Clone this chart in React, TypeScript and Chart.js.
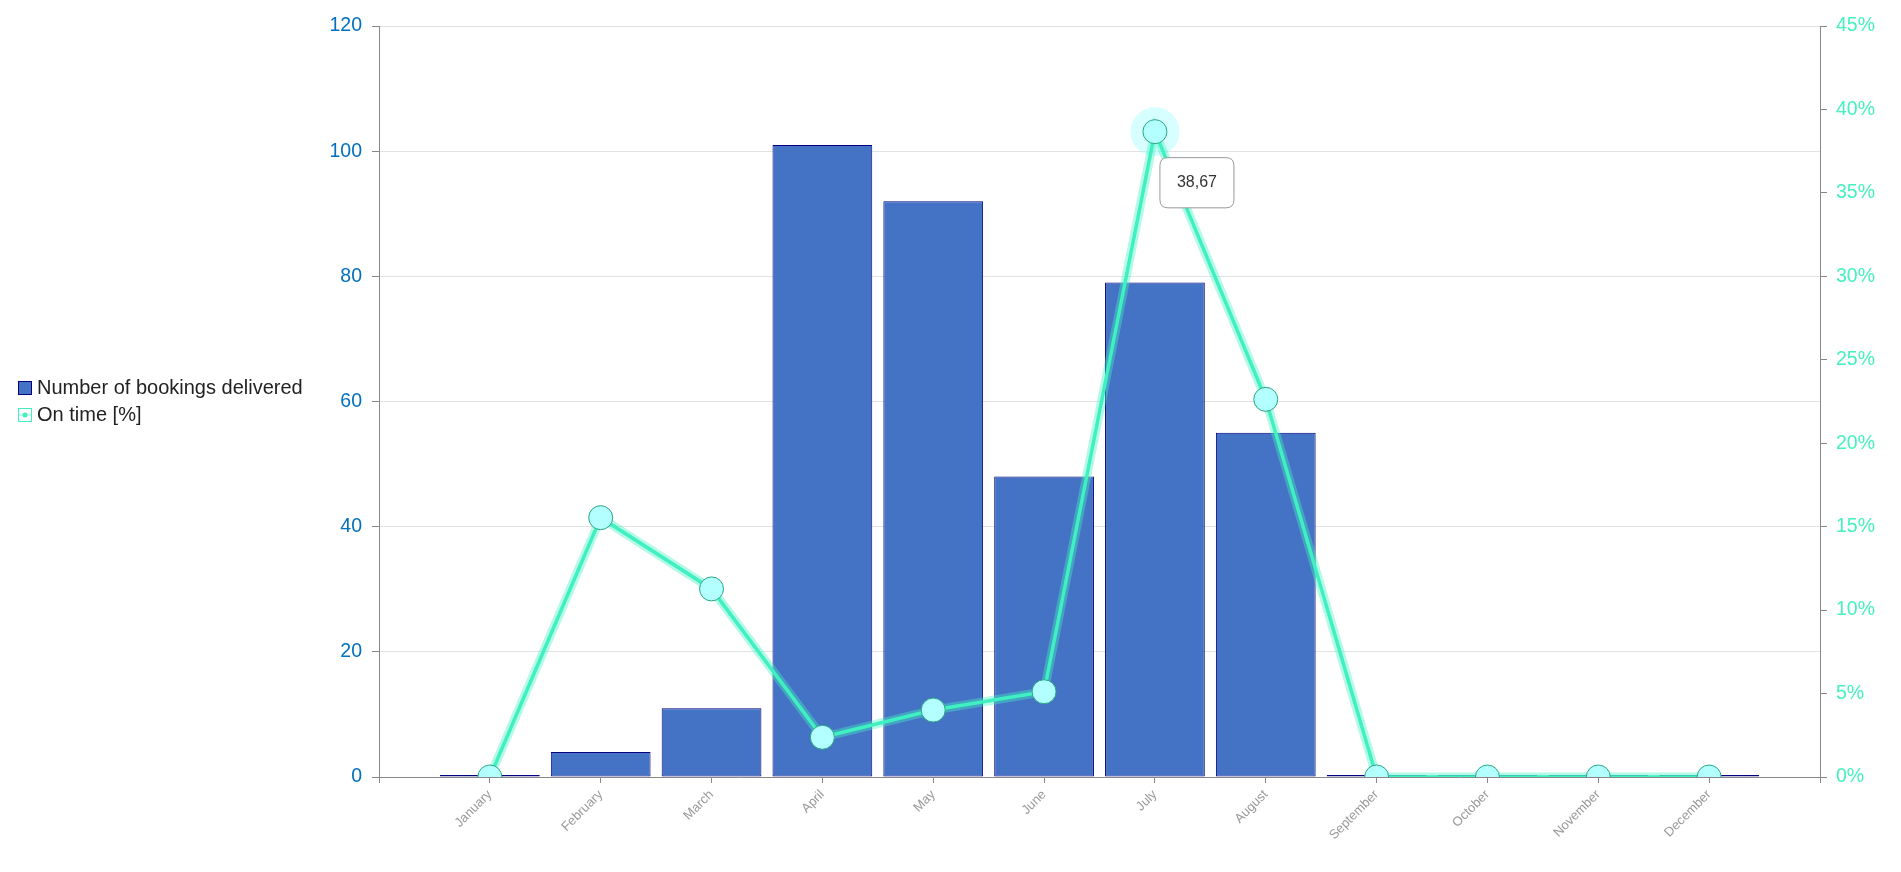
import React, { useEffect, useRef } from 'react';
import { Chart, registerables, Tooltip } from 'chart.js';

Chart.register(...registerables);

// ---------- data ----------
const months = [
  'January', 'February', 'March', 'April', 'May', 'June',
  'July', 'August', 'September', 'October', 'November', 'December',
];
const bookingsDelivered = [0, 4, 11, 101, 92, 48, 79, 55, 0, 0, 0, 0];
const onTimePercent = [0, 15.54, 11.27, 2.38, 4.01, 5.11, 38.67, 22.63, 0, 0, 0, 0];
const highlightedMonth = 'July';

const leftAxisMax = 120;
const leftAxisStep = 20;
const rightAxisMax = 45;
const rightAxisStep = 5;

// ---------- style ----------
const FONT = "'Liberation Sans', Arial, Helvetica, sans-serif";
const BAR_FILL = '#4472C4';
const BAR_BORDER = '#000080';
const LINE_COLOR = '#3FF0C0';
const LINE_GLOW = 'rgba(70,240,195,0.4)';
const POINT_FILL = '#B3FFFF';
const POINT_BORDER = '#26A67F';
const RIGHT_TICK_COLOR = '#45F2BF';
const LEFT_TICK_COLOR = '#0070C0';
const AXIS_COLOR = '#888888';

const CANVAS_W = 1885;
const CANVAS_H = 856;

// Tooltip positioner: box sits below-right of the hovered point
(Tooltip as any).positioners.offsetPoint = function (items: any[]) {
  if (!items.length) return false;
  const el = items[0].element;
  return { x: el.x + 13, y: el.y + 26 };
};

function makeIcon(draw: (ctx: CanvasRenderingContext2D) => void) {
  const c = document.createElement('canvas');
  c.width = 14;
  c.height = 14;
  const ctx = c.getContext('2d') as CanvasRenderingContext2D;
  draw(ctx);
  return c;
}

const haloPlugin = {
  id: 'halo',
  beforeDatasetsDraw(chart: any) {
    const act = chart.tooltip ? chart.tooltip.getActiveElements() : [];
    const ctx = chart.ctx;
    ctx.save();
    ctx.fillStyle = 'rgba(176,255,255,0.5)';
    act.forEach((a: any) => {
      ctx.beginPath();
      ctx.arc(a.element.x, a.element.y, 24.5, 0, Math.PI * 2);
      ctx.fill();
    });
    ctx.restore();
  },
};

export default function App() {
  const canvasRef = useRef<HTMLCanvasElement | null>(null);

  useEffect(() => {
    if (!canvasRef.current) return;

    const barIcon = makeIcon((ctx) => {
      ctx.fillStyle = BAR_BORDER;
      ctx.fillRect(0, 0, 14, 14);
      ctx.fillStyle = BAR_FILL;
      ctx.fillRect(1, 1, 12, 12);
    });
    const lineIcon = makeIcon((ctx) => {
      ctx.fillStyle = '#ffffff';
      ctx.fillRect(0, 0, 14, 14);
      ctx.strokeStyle = LINE_COLOR;
      ctx.lineWidth = 1;
      ctx.strokeRect(0.5, 0.5, 13, 13);
      ctx.strokeStyle = 'rgba(63,240,192,0.6)';
      ctx.beginPath();
      ctx.moveTo(1, 7);
      ctx.lineTo(13, 7);
      ctx.stroke();
      ctx.fillStyle = LINE_COLOR;
      ctx.beginPath();
      ctx.arc(7, 7, 2.5, 0, Math.PI * 2);
      ctx.fill();
    });

    // one empty slot before and after the months (axis padding)
    const labels = ['', ...months, ''];
    const pad = (arr: number[]) => [null, ...arr, null];

    const chart = new Chart(canvasRef.current, {
      data: {
        labels,
        datasets: [
          {
            type: 'bar',
            label: 'Number of bookings delivered',
            data: pad(bookingsDelivered),
            backgroundColor: BAR_FILL,
            borderColor: BAR_BORDER,
            borderWidth: 1,
            borderSkipped: false,
            barPercentage: 0.9,
            categoryPercentage: 1,
            minBarLength: 2,
            yAxisID: 'y',
            order: 3,
          } as any,
          {
            type: 'line',
            label: '__glow',
            data: pad(onTimePercent),
            borderColor: LINE_GLOW,
            borderWidth: 9,
            pointRadius: 0,
            pointHoverRadius: 0,
            tension: 0,
            yAxisID: 'y1',
            order: 2,
          } as any,
          {
            type: 'line',
            label: 'On time [%]',
            data: pad(onTimePercent),
            borderColor: LINE_COLOR,
            backgroundColor: POINT_FILL,
            borderWidth: 3.5,
            tension: 0,
            pointRadius: 12,
            pointBackgroundColor: POINT_FILL,
            pointBorderColor: POINT_BORDER,
            pointBorderWidth: 1,
            pointHoverRadius: 12,
            pointHoverBackgroundColor: POINT_FILL,
            pointHoverBorderColor: POINT_BORDER,
            pointHoverBorderWidth: 1,
            yAxisID: 'y1',
            order: 1,
          } as any,
        ],
      },
      options: {
        responsive: false,
        animation: false,
        events: [],
        layout: { padding: { left: 8, top: 18, right: 0, bottom: 0 } },
        font: { family: FONT },
        plugins: {
          legend: {
            position: 'left',
            align: 'center',
            fullSize: false,
            labels: {
              usePointStyle: true,
              pointStyleWidth: 4,
              padding: 7,
              color: '#222222',
              font: { size: 20, family: FONT },
              generateLabels: (c: any) => {
                const items = (Chart.defaults.plugins.legend.labels as any).generateLabels(c);
                return items
                  .filter((i: any) => i.datasetIndex !== 1)
                  .sort((a: any, b: any) => a.datasetIndex - b.datasetIndex)
                  .map((i: any) => ({
                    ...i,
                    pointStyle: i.datasetIndex === 0 ? barIcon : lineIcon,
                    fontColor: '#222222',
                  }));
              },
            },
          },
          tooltip: {
            enabled: true,
            position: 'offsetPoint' as any,
            xAlign: 'left',
            yAlign: 'top',
            caretSize: 0,
            caretPadding: 0,
            cornerRadius: 8,
            backgroundColor: '#ffffff',
            borderColor: '#999999',
            borderWidth: 1,
            bodyColor: '#333333',
            bodyFont: { size: 16, family: FONT },
            padding: { top: 15, bottom: 16, left: 17, right: 17 },
            displayColors: false,
            callbacks: {
              title: () => [] as any,
              label: (ctx: any) => String(ctx.parsed.y).replace('.', ','),
            },
          },
        },
        scales: {
          x: {
            type: 'category',
            offset: false,
            grid: {
              display: true,
              drawOnChartArea: false,
              drawTicks: true,
              tickLength: 6,
              tickColor: AXIS_COLOR,
              offset: false,
            },
            border: { display: true, color: AXIS_COLOR, width: 1 },
            ticks: {
              color: '#999999',
              font: { size: 13, family: FONT },
              minRotation: 45,
              maxRotation: 45,
              autoSkip: false,
              padding: 4,
            },
            afterFit: (s: any) => {
              s.height = 87;
            },
          },
          y: {
            type: 'linear',
            position: 'left',
            min: 0,
            max: leftAxisMax,
            ticks: {
              stepSize: leftAxisStep,
              color: LEFT_TICK_COLOR,
              font: { size: 19.5, family: FONT, lineHeight: 0.6 },
              padding: 10,
            },
            grid: { color: '#E2E2E2', tickColor: AXIS_COLOR, tickLength: 7 },
            border: { color: AXIS_COLOR },
            afterFit: (s: any) => {
              const lg = s.chart.legend;
              s.width = 371 - 8 - (lg ? lg.width : 0);
            },
          },
          y1: {
            type: 'linear',
            position: 'right',
            min: 0,
            max: rightAxisMax,
            ticks: {
              stepSize: rightAxisStep,
              color: RIGHT_TICK_COLOR,
              font: { size: 19.5, family: FONT, lineHeight: 0.6 },
              padding: 9,
              callback: (v: any) => v + '%',
            },
            grid: { drawOnChartArea: false, tickColor: AXIS_COLOR, tickLength: 7 },
            border: { color: AXIS_COLOR },
            afterFit: (s: any) => {
              s.width = CANVAS_W - 1812;
            },
          },
        },
      } as any,
      plugins: [haloPlugin],
    });

    const activeIndex = months.indexOf(highlightedMonth) + 1;
    chart.tooltip?.setActiveElements([{ datasetIndex: 2, index: activeIndex }], { x: 0, y: 0 });
    chart.update();

    return () => {
      chart.destroy();
    };
  }, []);

  return (
    <div style={{ width: CANVAS_W + 'px', height: CANVAS_H + 'px' }}>
      <canvas
        ref={canvasRef}
        width={CANVAS_W}
        height={CANVAS_H}
        style={{ display: 'block', width: CANVAS_W + 'px', height: CANVAS_H + 'px' }}
      />
    </div>
  );
}
